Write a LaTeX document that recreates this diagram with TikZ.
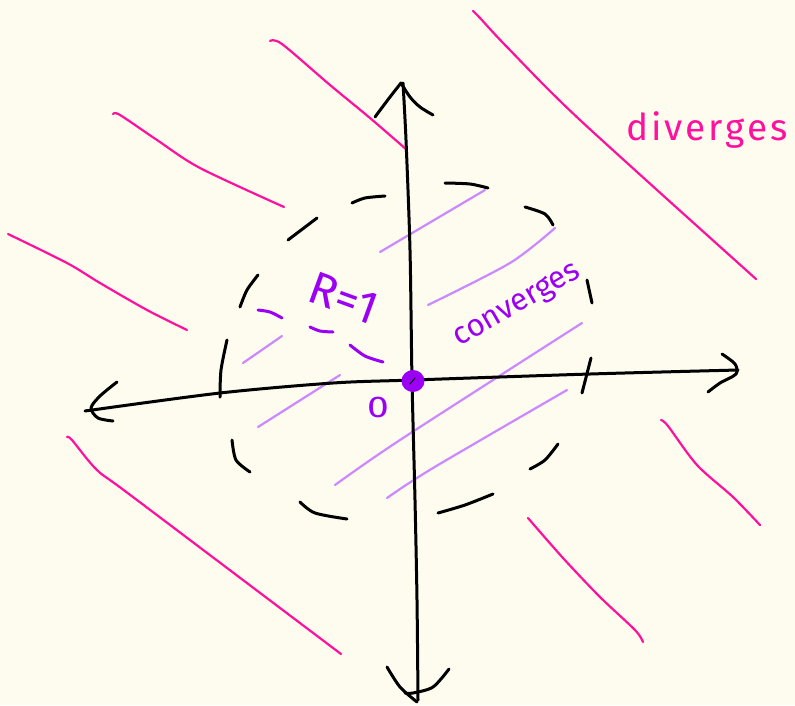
\documentclass[tikz,border=0pt]{standalone}
\usepackage{fontspec}
\newfontfamily\hand{Fira Sans}[LetterSpace=8]
\newfontfamily\handr{Fira Sans}
\definecolor{bg}{HTML}{FDFCEE}
\definecolor{pinkline}{HTML}{FF119E}
\definecolor{hatch}{HTML}{CC88FF}
\definecolor{purp}{HTML}{9B00F5}
\begin{document}
\begin{tikzpicture}[x=1pt,y=-1pt,line cap=round,line join=round,
  ax/.style={line width=3pt,black},
  pk/.style={line width=2.2pt,pinkline},
  ht/.style={line width=2.2pt,hatch},
  dsh/.style={line width=3pt,black},
  rad/.style={line width=3pt,purp}]
\fill[bg] (0,0) rectangle (795,705);
\useasboundingbox (0,0) rectangle (795,705);
% pink "diverges" strokes
\draw[pk] plot[smooth] coordinates {(270,41) (282,44) (330,85) (370,118) (407,150)};
\draw[pk] plot[smooth] coordinates {(113,114) (120,115) (157,140) (200,168) (284,207)};
\draw[pk] plot[smooth] coordinates {(8,234) (67,263) (100,283) (147,310) (187,330)};
\draw[pk] plot[smooth] coordinates {(473,11) (480,18) (507,47) (580,120) (756,279)};
\draw[pk] plot[smooth] coordinates {(67,437) (72,440) (97,470) (133,497) (341,654)};
\draw[pk] plot[smooth] coordinates {(528,518) (563,558) (600,597) (635,630) (643,642)};
\draw[pk] plot[smooth] coordinates {(661,420) (668,426) (697,465) (733,497) (760,525)};
% light purple hatching
\draw[ht] (380,252) -- (485,190);
\draw[ht] plot[smooth] coordinates {(428,305) (510,263) (555,228)};
\draw[ht] (243,363) -- (282,336);
\draw[ht] (258,427) -- (340,375);
\draw[ht] plot[smooth] coordinates {(335,485) (400,440) (582,323)};
\draw[ht] plot[smooth] coordinates {(387,498) (433,468) (567,390)};
% axes
\draw[ax] plot[smooth] coordinates {(85,411) (220,393) (333,383) (413,380) (590,374) (738,370)};
\draw[ax] plot[smooth] coordinates {(117,382) (100,396) (91,408) (98,418) (113,421)};
\draw[ax] plot[smooth] coordinates {(722,354) (735,364) (736,374) (720,383) (708,392)};
\draw[ax] plot[smooth] coordinates {(403,83) (406,140) (410,250) (412,380) (415,500) (417,600) (418,700)};
\draw[ax] plot[smooth] coordinates {(375,117) (390,97) (401,83)};
\draw[ax] plot[smooth] coordinates {(401,83) (410,97) (420,107) (433,115)};
\draw[ax] plot[smooth] coordinates {(387,667) (400,687) (417,702)};
\draw[ax] plot[smooth] coordinates {(449,669) (433,687) (413,693) (405,693)};
% ticks / dashed circle
\draw[dsh] (591,358) -- (582,393);
\draw[dsh] plot[smooth] coordinates {(227,340) (221,370) (220,397)};
\draw[dsh] plot[smooth] coordinates {(352,203) (365,198) (385,196)};
\draw[dsh] plot[smooth] coordinates {(445,183) (470,184) (488,188)};
\draw[dsh] plot[smooth] coordinates {(525,207) (545,214) (553,225)};
\draw[dsh] (587,280) -- (592,303);
\draw[dsh] plot[smooth] coordinates {(558,444) (545,460) (530,469)};
\draw[dsh] plot[smooth] coordinates {(493,494) (465,505) (438,513)};
\draw[dsh] plot[smooth] coordinates {(300,502) (315,513) (347,519)};
\draw[dsh] plot[smooth] coordinates {(232,440) (236,460) (250,472)};
\draw[dsh] plot[smooth] coordinates {(240,307) (247,290) (258,275)};
\draw[dsh] (288,240) -- (317,218);
% purple radius dashes
\draw[rad] plot[smooth] coordinates {(258,310) (270,312) (282,318)};
\draw[rad] plot[smooth] coordinates {(310,327) (320,331) (333,332)};
\draw[rad] plot[smooth] coordinates {(350,345) (365,356) (383,362)};
% origin dot
\fill[purp] (413,381) ellipse [x radius=11.5pt, y radius=11pt];
\draw[line width=1pt,black] (410,384) -- (415,378);
% labels
\node[purp,rotate=-20,inner sep=0pt] (rlab) at (344,298) {\handr\fontsize{46}{46}\selectfont R=1};
\node[purp,rotate=30,inner sep=0pt] (conv) at (518,306) {\handr\fontsize{31}{31}\selectfont converges};
\node[pinkline,inner sep=0pt,anchor=base] (div) at (707,140) {\hand\fontsize{37}{37}\selectfont diverges};
\node[purp,inner sep=0pt,xscale=1.3] (zero) at (378,407) {\handr\fontsize{30}{30}\selectfont 0};
\end{tikzpicture}
\end{document}
